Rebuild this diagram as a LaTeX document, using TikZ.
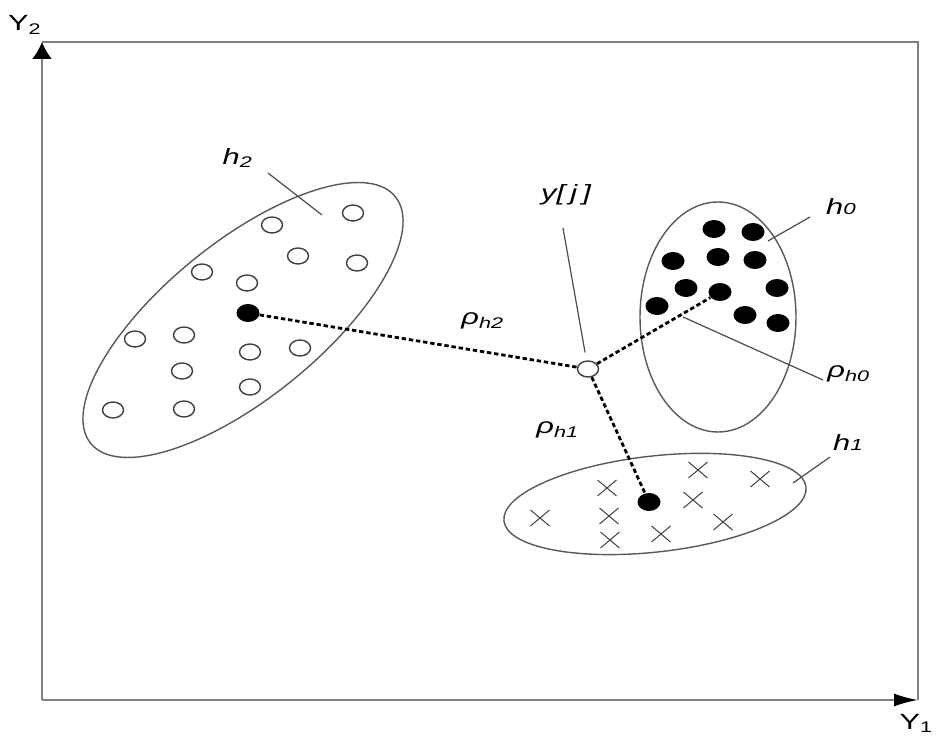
\documentclass[tikz,border=0pt]{standalone}
\usepackage{fontspec}
\setmainfont{Liberation Sans}
\usetikzlibrary{arrows.meta, shapes.geometric, shapes.misc}

\begin{document}
\begin{tikzpicture}[x=0.5pt, y=-0.5pt,
	axis/.style={draw=black!50, line width=1pt},
	cluster/.style={draw=black!65, line width=0.7pt},
	leader/.style={draw=black!70, line width=0.6pt},
	dist/.style={line width=1.4pt, dash pattern=on 2.2pt off 1.4pt},
	hollow/.style={shape=ellipse, draw=black!75, line width=0.7pt, fill=white, minimum width=10.5pt, minimum height=8pt, inner sep=0pt},
	blob/.style={shape=ellipse, fill=black, minimum width=11.5pt, minimum height=9pt, inner sep=0pt},
	xmark/.style={shape=cross out, draw=black!75, line width=0.5pt, minimum width=9pt, minimum height=7.5pt, inner sep=0pt},
	lbl/.style={font=\fontsize{11}{13}\selectfont\itshape, xscale=1.4, inner sep=1pt},
	axlbl/.style={font=\fontsize{11}{13}\selectfont, xscale=1.4, inner sep=0pt}]
	\useasboundingbox (0,0) rectangle (937,742);
	% Frame and axes:
	\coordinate (o) at (42,700);
	\coordinate (ytip) at (42,42);
	\coordinate (xtip) at (918,700);
	\coordinate (corner) at (918,42);
	\draw[axis] (ytip) -- (corner) -- (xtip);
	\draw[axis, -{Latex[length=8.5pt, width=10pt, color=black]}] (o) -- (ytip);
	\draw[axis, -{Latex[length=12pt, width=6.5pt, color=black]}] (o) -- (xtip);
	\node[axlbl] (ly2) at (25,25) {Y\textsubscript{2}};
	\node[axlbl, anchor=north east] (ly1) at (934,714) {Y\textsubscript{1}};

	% Clusters:
	\coordinate (k2) at (243,320);
	\coordinate (k0) at (718,317);
	\coordinate (k1) at (655,504);
	\draw[cluster, rotate around={39:(k2)}] (k2) ellipse [x radius=196, y radius=78];
	\draw[cluster] (k0) ellipse [x radius=78, y radius=115];
	\draw[cluster, rotate around={6.4:(k1)}] (k1) ellipse [x radius=152, y radius=48];

	\foreach \x/\y [count=\i] in {272/225, 353/213, 202/272, 247/283, 298/256, 357/263, 135/339,
		184/335, 250/352, 300/348, 182/371, 250/387, 113/410, 184/409}
		\node[hollow] (p\i) at (\x,\y) {};
	\foreach \x/\y [count=\i] in {714/229, 753/232, 673/261, 718/257, 755/260, 686/288,
		777/288, 657/306, 745/315, 778/323}
		\node[blob] (q\i) at (\x,\y) {};
	\foreach \x/\y [count=\i] in {540/518, 607/488, 609/516, 610/540, 698/470, 760/479,
		693/500, 661/534, 723/522}
		\node[xmark] (r\i) at (\x,\y) {};

	% Centres and the sample y[j]:
	\node[blob] (c2) at (248,313) {};
	\node[blob] (c0) at (720,292) {};
	\node[blob] (c1) at (649,502) {};
	\node[hollow] (yj) at (588,369) {};
	\draw[dist] (c2) -- (yj);
	\draw[dist] (yj) -- (c0);
	\draw[dist] (yj) -- (c1);

	% Labels and leaders:
	\node[lbl] (lh2) at (238,158) {h\textsubscript{2}};
	\node[lbl] (lyj) at (566,195) {y[\,j\,]};
	\node[lbl] (lh0) at (841,207) {h{\footnotesize 0}};
	\node[lbl] (lh1) at (848,443) {h{\footnotesize 1}};
	\node[lbl] (lr2) at (483,321) {ρ\textsubscript{h2}};
	\node[lbl] (lr1) at (558,430) {ρ\textsubscript{h1}};
	\node[lbl] (lr0) at (849,374) {ρ\textsubscript{h0}};

	\coordinate (a2) at (268,173);
	\coordinate (b2) at (322,215);
	\coordinate (ayj) at (563,228);
	\coordinate (a0) at (810,217);
	\coordinate (b0) at (768,241);
	\coordinate (ar0) at (823,380);
	\coordinate (br0) at (683,317);
	\coordinate (a1) at (830,457);
	\coordinate (b1) at (793,483);
	\draw[leader] (a2) -- (b2);
	\draw[leader, shorten >=4pt] (ayj) -- (yj);
	\draw[leader] (a0) -- (b0);
	\draw[leader] (ar0) -- (br0);
	\draw[leader] (a1) -- (b1);
\end{tikzpicture}
\end{document}
